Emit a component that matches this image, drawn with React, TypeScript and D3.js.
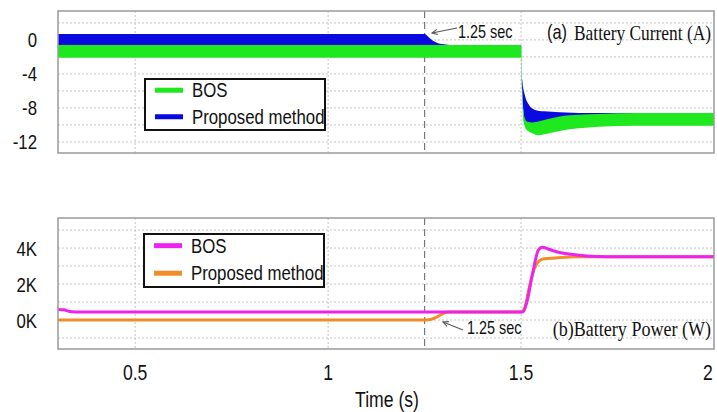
import React from "react";
import * as d3 from "d3";

// Time axis
const timeTicks = [0.5, 1, 1.5, 2];
const switchTime = 1.25;

// (a) Battery current, ripple envelopes (A)
const currentTicks = [0, -4, -8, -12];
const currentGrid = [2, 0, -2, -4, -6, -8, -10, -12];

const bosCurrentT = [0.3, 1.5, 1.502, 1.506, 1.515, 1.53, 1.545, 1.57, 1.6, 1.65, 1.7, 1.8, 2.0];
const bosCurrentHi = [-0.6, -0.6, -4, -8.5, -9.6, -9.7, -9.6, -9.3, -9.0, -8.8, -8.7, -8.6, -8.6];
const bosCurrentLo = [-2.1, -2.1, -5.5, -9.5, -10.6, -11.0, -11.2, -11.0, -10.7, -10.4, -10.2, -10.1, -10.1];

const propCurrentT = [0.3, 1.25, 1.26, 1.27, 1.28, 1.3, 1.33, 1.5, 1.503, 1.51, 1.52, 1.535, 1.56, 1.6, 1.7, 2.0];
const propCurrentHi = [0.7, 0.7, 0.35, -0.05, -0.3, -0.5, -0.6, -0.6, -4.7, -6.5, -7.6, -8.2, -8.4, -8.5, -8.6, -8.6];
const propCurrentLo = [-0.6, -0.6, -0.7, -0.8, -0.9, -1.0, -1.0, -1.0, -6, -9.5, -10, -10, -9.9, -9.8, -9.7, -9.7];

// (b) Battery power (W)
const powerTicks = [0, 2000, 4000];
const powerGrid = [-1000, 0, 1000, 2000, 3000, 4000, 5000];

const bosPowerT = [0.3, 0.315, 0.33, 0.36, 1.505, 1.515, 1.53, 1.545, 1.555, 1.57, 1.6, 1.63, 1.67, 1.72, 2.0];
const bosPowerW = [590, 570, 480, 450, 450, 1000, 2600, 3900, 4050, 3950, 3750, 3650, 3560, 3520, 3520];

const propPowerT = [0.3, 1.25, 1.265, 1.28, 1.295, 1.31, 1.5, 1.51, 1.52, 1.535, 1.548, 1.56, 1.59, 1.64, 2.0];
const propPowerW = [0, 0, 30, 150, 330, 450, 450, 700, 1700, 2900, 3300, 3400, 3450, 3520, 3520];

const GREEN = "#1ee81e";
const BLUE = "#0a0ae0";
const MAGENTA = "#ee22ee";
const ORANGE = "#f28c28";
const SANS = "'Liberation Sans', Arial, sans-serif";
const SERIF = "'Liberation Serif', 'Times New Roman', serif";

const W = 717;
const H = 412;
const left = 58;
const right = 714;

const x = d3.scaleLinear().domain([0.3, 2.0]).range([left, right]);
const yCur = d3.scaleLinear().domain([-13.3, 3.4]).range([153, 11]);
const yPow = d3.scaleLinear().domain([-1610, 5670]).range([349, 218]);

type Pt = { t: number; hi: number; lo: number };
const band = (t: number[], hi: number[], lo: number[]): Pt[] =>
  t.map((v, i) => ({ t: v, hi: hi[i], lo: lo[i] }));

const curArea = d3
  .area<Pt>()
  .x((d) => x(d.t))
  .y0((d) => yCur(d.lo))
  .y1((d) => yCur(d.hi))
  .curve(d3.curveMonotoneX);

const powLine = (t: number[], w: number[]) =>
  d3
    .line<number>()
    .x((_, i) => x(t[i]))
    .y((d) => yPow(d))
    .curve(d3.curveMonotoneX)(w) as string;

function Narrow(props: {
  x: number;
  y: number;
  size: number;
  sx?: number;
  anchor?: "start" | "middle" | "end";
  family?: string;
  fill?: string;
  children: React.ReactNode;
}) {
  const { x: tx, y: ty, size, sx = 0.8, anchor = "start", family = SANS, fill = "#111" } = props;
  return (
    <text
      transform={`translate(${tx},${ty}) scale(${sx},1)`}
      fontFamily={family}
      fontSize={size}
      textAnchor={anchor}
      fill={fill}
    >
      {props.children}
    </text>
  );
}

function Panel(props: { top: number; bottom: number; grid: number[]; y: d3.ScaleLinear<number, number> }) {
  const { top, bottom, grid, y } = props;
  return (
    <g>
      {grid.map((g) => (
        <line key={"h" + g} x1={left} x2={right} y1={y(g)} y2={y(g)} stroke="#c4c4c4" strokeWidth={1} strokeDasharray="2,2" />
      ))}
      {[0.5, 1, 1.5].map((t) => (
        <line key={"v" + t} x1={x(t)} x2={x(t)} y1={top} y2={bottom} stroke="#c4c4c4" strokeWidth={1} strokeDasharray="2,2" />
      ))}
      <line x1={x(switchTime)} x2={x(switchTime)} y1={top} y2={bottom} stroke="#777" strokeWidth={1.2} strokeDasharray="7,4" />
    </g>
  );
}

function Legend(props: { x0: number; y0: number; h: number; c1: string; c2: string; sw: number }) {
  const { x0, y0, h, c1, c2, sw } = props;
  const r1 = y0 + h * 0.22;
  const r2 = y0 + h * 0.74;
  return (
    <g>
      <rect x={x0} y={y0} width={180} height={h} fill="#fff" stroke="#111" strokeWidth={2} />
      <line x1={x0 + 10} x2={x0 + 38} y1={r1} y2={r1} stroke={c1} strokeWidth={sw} />
      <line x1={x0 + 10} x2={x0 + 38} y1={r2} y2={r2} stroke={c2} strokeWidth={sw} />
      <Narrow x={x0 + 47} y={r1 + 7} size={21}>BOS</Narrow>
      <Narrow x={x0 + 47} y={r2 + 7} size={21}>Proposed method</Narrow>
    </g>
  );
}

function Arrow(props: { x1: number; y1: number; x2: number; y2: number }) {
  const { x1, y1, x2, y2 } = props;
  const a = Math.atan2(y2 - y1, x2 - x1);
  const L = 6;
  const p1 = [x2 - L * Math.cos(a - 0.45), y2 - L * Math.sin(a - 0.45)];
  const p2 = [x2 - L * Math.cos(a + 0.45), y2 - L * Math.sin(a + 0.45)];
  return (
    <g stroke="#555" strokeWidth={1.1} fill="none">
      <line x1={x1} y1={y1} x2={x2} y2={y2} />
      <path d={`M${p1[0]},${p1[1]} L${x2},${y2} L${p2[0]},${p2[1]}`} />
    </g>
  );
}

export default function App() {
  const bosBand = band(bosCurrentT, bosCurrentHi, bosCurrentLo);
  const propBand = band(propCurrentT, propCurrentHi, propCurrentLo);
  return (
    <svg width={W} height={H} style={{ position: "absolute", left: 0, top: 0, background: "#fff" }}>
      <rect width={W} height={H} fill="#fff" />

      {/* (a) Battery current */}
      <Panel top={11} bottom={153} grid={currentGrid} y={yCur} />
      <path d={curArea(propBand) as string} fill={BLUE} />
      <path d={curArea(bosBand) as string} fill={GREEN} />
      <rect x={left} y={11} width={right - left} height={142} fill="none" stroke="#9a9a9a" strokeWidth={1.5} />
      {currentTicks.map((v) => (
        <Narrow key={v} x={37} y={yCur(v) + 7.5} size={21} anchor="end">
          {String(v)}
        </Narrow>
      ))}
      <Legend x0={145} y0={79} h={51} c1={GREEN} c2={BLUE} sw={5} />
      <Arrow x1={457} y1={28} x2={432} y2={33} />
      <Narrow x={458} y={38} size={18}>1.25 sec</Narrow>
      <Narrow x={547} y={39} size={20} sx={0.82}>(a)</Narrow>
      <Narrow x={711} y={40} size={22} sx={0.79} anchor="end" family={SERIF}>Battery Current (A)</Narrow>

      {/* (b) Battery power */}
      <Panel top={218} bottom={349} grid={powerGrid} y={yPow} />
      <path d={powLine(propPowerT, propPowerW)} fill="none" stroke={ORANGE} strokeWidth={3} />
      <path d={powLine(bosPowerT, bosPowerW)} fill="none" stroke={MAGENTA} strokeWidth={3} />
      <rect x={left} y={218} width={right - left} height={131} fill="none" stroke="#9a9a9a" strokeWidth={1.5} />
      {powerTicks.map((v) => (
        <Narrow key={v} x={37} y={yPow(v) + 7.5} size={21} anchor="end">
          {`${v / 1000}K`}
        </Narrow>
      ))}
      <Legend x0={144} y0={234} h={53} c1={MAGENTA} c2={ORANGE} sw={5} />
      <Arrow x1={463} y1={330} x2={443} y2={322} />
      <Narrow x={467} y={334} size={18}>1.25 sec</Narrow>
      <Narrow x={711} y={336} size={22} sx={0.82} anchor="end" family={SERIF}>(b)Battery Power (W)</Narrow>

      {/* Time axis */}
      {timeTicks.map((t) => (
        <Narrow key={t} x={Math.min(x(t), 708)} y={380} size={22} anchor="middle">
          {String(t)}
        </Narrow>
      ))}
      <Narrow x={387} y={407} size={22} anchor="middle">Time (s)</Narrow>
    </svg>
  );
}
